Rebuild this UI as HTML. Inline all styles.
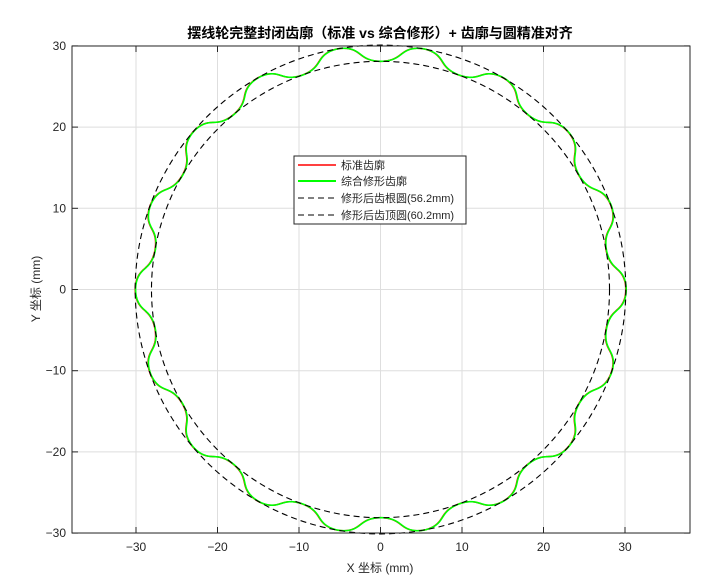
<!DOCTYPE html>
<html><head><meta charset="utf-8"><style>
body{margin:0;background:#fff;}
svg{display:block;font-family:"Liberation Sans","Noto Sans CJK SC",sans-serif;}
</style></head><body>
<svg id="s" width="721" height="586" viewBox="0 0 721 586" xmlns="http://www.w3.org/2000/svg">
<rect width="721" height="586" fill="#fff"/>
<rect x="72" y="46" width="618" height="487" fill="#fff"/>
<g id="grid" stroke="#dedede" stroke-width="1"></g>
<g id="curves"></g>
<rect x="72" y="46" width="618" height="487" fill="none" stroke="#262626" stroke-width="1"/>
<g id="ticks" stroke="#262626" stroke-width="1"></g>
<g id="labels" font-size="12" fill="#262626"></g>
<text x="380" y="38" text-anchor="middle" font-size="14" font-weight="bold" fill="#000">摆线轮完整封闭齿廓（标准 vs 综合修形）+ 齿廓与圆精准对齐</text>
<text x="380" y="572" text-anchor="middle" font-size="12" fill="#262626">X 坐标 (mm)</text>
<text transform="translate(40,289) rotate(-90)" text-anchor="middle" font-size="12" fill="#262626">Y 坐标 (mm)</text>
<g>
<rect x="294" y="156" width="172" height="68" fill="#fff" stroke="#262626" stroke-width="1"/>
<line x1="298" y1="165" x2="336" y2="165" stroke="#f00" stroke-width="1.5"/>
<line x1="298" y1="181" x2="336" y2="181" stroke="#0f0" stroke-width="2"/>
<line x1="298" y1="198" x2="336" y2="198" stroke="#000" stroke-width="1" stroke-dasharray="6,4"/>
<line x1="298" y1="215" x2="336" y2="215" stroke="#000" stroke-width="1" stroke-dasharray="6,4"/>
<g font-size="11" fill="#262626">
<text x="341" y="169">标准齿廓</text>
<text x="341" y="185">综合修形齿廓</text>
<text x="341" y="202">修形后齿根圆(56.2mm)</text>
<text x="341" y="219">修形后齿顶圆(60.2mm)</text>
</g></g>
</svg>
<script>
var NS="http://www.w3.org/2000/svg";
function X(x){return 380.5+8.15*x}function Y(y){return 289.5-8.12*y}
function el(p,t,a){var e=document.createElementNS(NS,t);for(var k in a)e.setAttribute(k,a[k]);document.getElementById(p).appendChild(e);return e}
for(var v=-30;v<=30;v+=10){
 el("grid","line",{x1:X(v),y1:46,x2:X(v),y2:533});
 el("grid","line",{x1:72,y1:Y(v),x2:690,y2:Y(v)});
 el("ticks","line",{x1:X(v),y1:533,x2:X(v),y2:527});
 el("ticks","line",{x1:X(v),y1:46,x2:X(v),y2:52});
 el("ticks","line",{x1:72,y1:Y(v),x2:78,y2:Y(v)});
 el("ticks","line",{x1:690,y1:Y(v),x2:684,y2:Y(v)});
 var t=el("labels","text",{x:X(v),y:551,"text-anchor":"middle"});t.textContent=(v<0?"−":"")+Math.abs(v);
 var u=el("labels","text",{x:66,y:Y(v)+4,"text-anchor":"end"});u.textContent=(v<0?"−":"")+Math.abs(v);
}
function circ(r){el("curves","ellipse",{cx:X(0),cy:Y(0),rx:8.15*r,ry:8.12*r,fill:"none",stroke:"#000","stroke-width":1.1,"stroke-dasharray":"6,4"})}
var d="";var N=18;
for(var i=0;i<=3600;i++){
 var th=i/3600*2*Math.PI;
 var r=29.1+1.0*Math.cos(N*th);
 var phi=th+0.009*Math.sin(2*N*th);
 d+=(i?"L":"M")+X(r*Math.cos(phi)).toFixed(2)+","+Y(r*Math.sin(phi)).toFixed(2);
}
el("curves","path",{d:d,fill:"none",stroke:"#f00","stroke-width":1.5});
el("curves","path",{d:d,fill:"none",stroke:"#0f0","stroke-width":1.6,transform:"translate(0.4,0)"});
circ(28.1);circ(30.1);
</script>
</body></html>
